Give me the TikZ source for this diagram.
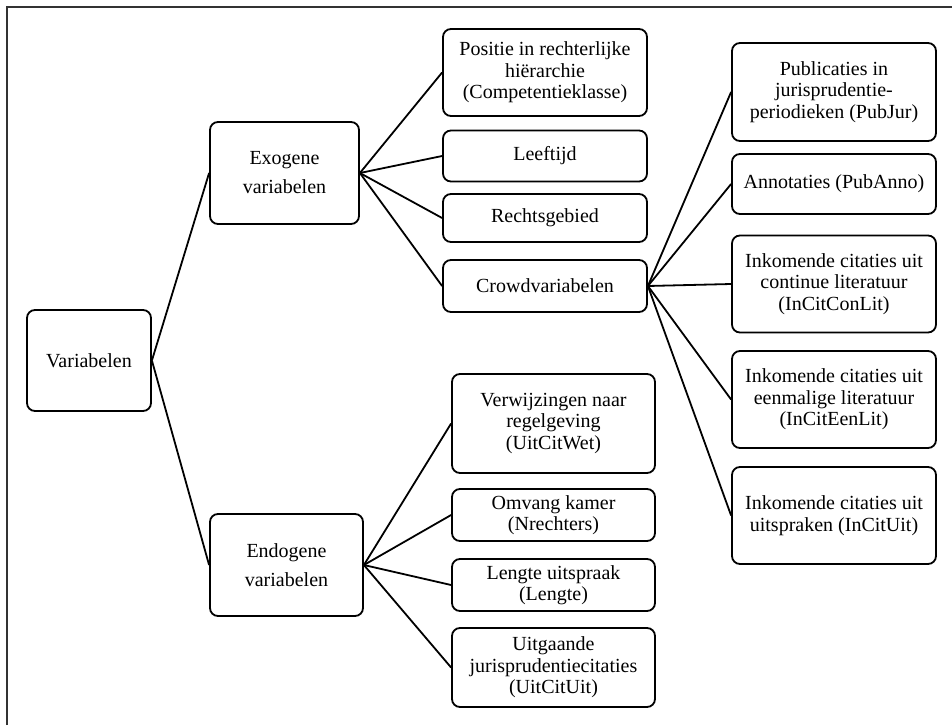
\documentclass[tikz,border=0pt]{standalone}
\usepackage{fontspec}
\setmainfont{Liberation Serif}
\begin{document}
\begin{tikzpicture} [
            x=1pt, y=-1pt,
            box/.style={draw,rounded corners=8pt,line width=1.8pt,align=center,inner sep=0pt,
                font=\fontsize{20}{21.5}\selectfont},
            wide/.style={box,font=\fontsize{20}{29}\selectfont},
            edge/.style = {draw,line width=1.8pt,-},
        ]
        \useasboundingbox (0,0) rectangle (952,725);
        % frame (top and left only)
        \draw[line width=2.6pt,black!80] (7,725) -- (7,7) -- (952,7);

        \node[box,minimum width=124pt,minimum height=101pt] (var) at (89,360.5) {Variabelen};
        \node[wide,minimum width=149pt,minimum height=102pt] (exo) at (284.5,173) {Exogene\\variabelen};
        \node[wide,minimum width=153pt,minimum height=102pt] (endo) at (286.5,565) {Endogene\\variabelen};

        % exogene
        \foreach \name/\y/\h/\txt in {
                pos/72.5/87/{Positie in rechterlijke\\hiërarchie\\(Competentieklasse)},
                leef/156/51/{Leeftijd},
                recht/218/48/{Rechtsgebied},
                crowd/286/52/{Crowdvariabelen}}
            \node[box,minimum width=204pt,minimum height=\h pt] (\name) at (545,\y) {\txt};

        % crowd
        \foreach \name/\y/\h/\txt in {
                pub/92/98/{Publicaties in\\jurisprudentie-\\periodieken (PubJur)},
                anno/184/60/{Annotaties (PubAnno)},
                icon/284/97/{Inkomende citaties uit\\continue literatuur\\(InCitConLit)},
                ieen/399.5/97/{Inkomende citaties uit\\eenmalige literatuur\\(InCitEenLit)},
                iuit/515.5/97/{Inkomende citaties uit\\uitspraken (InCitUit)}}
            \node[box,minimum width=204pt,minimum height=\h pt] (\name) at (834,\y) {\txt};

        % endogene
        \foreach \name/\y/\h/\txt in {
                verw/423.5/99/{Verwijzingen naar\\regelgeving\\(UitCitWet)},
                omv/515/52/{Omvang kamer\\(Nrechters)},
                leng/585/52/{Lengte uitspraak\\(Lengte)},
                uitg/667.5/79/{Uitgaande\\jurisprudentiecitaties\\(UitCitUit)}}
            \node[box,minimum width=203pt,minimum height=\h pt] (\name) at (553.5,\y) {\txt};

        \foreach \source/ \dest in {
                var/exo,var/endo,
                exo/pos,exo/leef,exo/recht,exo/crowd,
                crowd/pub,crowd/anno,crowd/icon,crowd/ieen,crowd/iuit,
                endo/verw,endo/omv,endo/leng,endo/uitg}
            \path[edge] (\source.east) -- (\dest.west);
    \end{tikzpicture}
\end{document}
